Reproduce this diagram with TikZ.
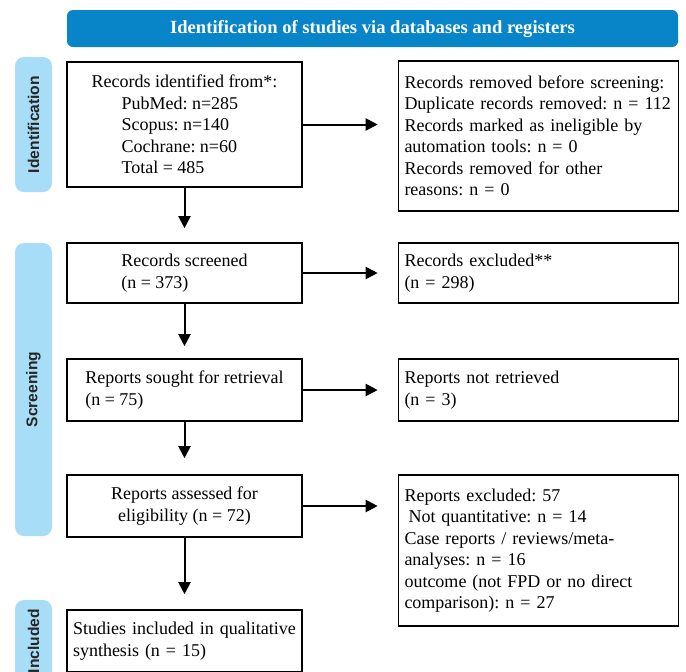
\documentclass[tikz,border=0pt]{standalone}
\usepackage{fontspec}
\setmainfont{Liberation Serif}
\setsansfont{Liberation Sans}
\usepackage{xcolor}
\usetikzlibrary{positioning, calc, arrows.meta}
\definecolor{headblue}{RGB}{8,132,200}
\definecolor{sideblue}{RGB}{168,221,247}
\frenchspacing

\begin{document}
\begin{tikzpicture}[x=0.5pt, y=-0.5pt,
    box/.style={draw, line width=0.8pt, inner sep=3pt, minimum height=31pt, font=\fontsize{9}{10.75}\selectfont},
    lbox/.style={box, minimum width=117.5pt, align=left},
    rbox/.style={box, minimum width=139.5pt, text width=134pt, align=left},
    sidebar/.style={fill=sideblue, rounded corners=4.5pt, rotate=90, minimum height=18.5pt, text=black!85, font=\sffamily\bfseries\fontsize{7.8}{9}\selectfont},
    flow/.style={line width=1pt, -{Triangle[length=6pt,width=6pt]}}]
        \useasboundingbox (0,0) rectangle (686,671);
        \clip (0,0) rectangle (686,671);
        \node[fill=headblue, rounded corners=3pt, minimum width=305.5pt, minimum height=18.5pt, text=white, font=\bfseries\fontsize{9.3}{11}\selectfont] (head) at (372.5,28.5) {Identification of studies via databases and registers};
        \node[sidebar, minimum width=67.5pt] (idbar) at (33.5,124.5) {Identification};
        \node[sidebar, minimum width=146.5pt] (scbar) at (33.5,389.5) {Screening};
        \node[sidebar, minimum width=41pt] (inbar) at (33.5,641) {Included};
        \node[lbox, minimum height=62.5pt] (ident) at (184.5,124.5) {Records identified from*:\\\hspace*{15pt}PubMed: n=285\\\hspace*{15pt}Scopus: n=140\\\hspace*{15pt}Cochrane: n=60\\\hspace*{15pt}Total = 485};
        \node[rbox, minimum height=75pt] (removed) at (538.5,136) {Records removed before screening:\\Duplicate records removed: n = 112\\Records marked as ineligible by\\automation tools: n = 0\\Records removed for other\\reasons: n = 0};
        \node[lbox, minimum height=30pt] (screened) at (184.5,273) {Records screened\\(n = 373)};
        \node[rbox, minimum height=30pt] (excluded) at (538.5,273) {Records excluded**\\(n = 298)};
        \node[lbox] (sought) at (184.5,390) {Reports sought for retrieval\\(n = 75)};
        \node[rbox] (notret) at (538.5,390) {Reports not retrieved\\(n = 3)};
        \node[lbox, align=center] (assessed) at (184.5,506) {Reports assessed for\\eligibility (n = 72)};
        \node[rbox, minimum height=75.5pt] (repexcl) at (538.5,550.5) {Reports excluded: 57\\\hspace*{2pt}Not quantitative: n = 14\\Case reports / reviews/meta-\\analyses: n = 16\\outcome (not FPD or no direct\\comparison): n = 27};
        \node[lbox, text width=111.5pt] (studies) at (184.5,641) {Studies included in qualitative\\synthesis (n = 15)};
        \draw[flow, shorten >=10pt] (ident.east) -- (ident.east -| removed.west);
        \draw[flow, shorten >=10pt] (screened.east) -- (screened.east -| excluded.west);
        \draw[flow, shorten >=10pt] (sought.east) -- (sought.east -| notret.west);
        \draw[flow, shorten >=10pt] (assessed.east) -- (assessed.east -| repexcl.west);
        \draw[flow, shorten >=7pt] (ident) -- (screened);
        \draw[flow, shorten >=6pt] (screened) -- (sought);
        \draw[flow, shorten >=8pt] (sought) -- (assessed);
        \draw[flow, shorten >=7.5pt] (assessed) -- (studies);
    \end{tikzpicture}
\end{document}
